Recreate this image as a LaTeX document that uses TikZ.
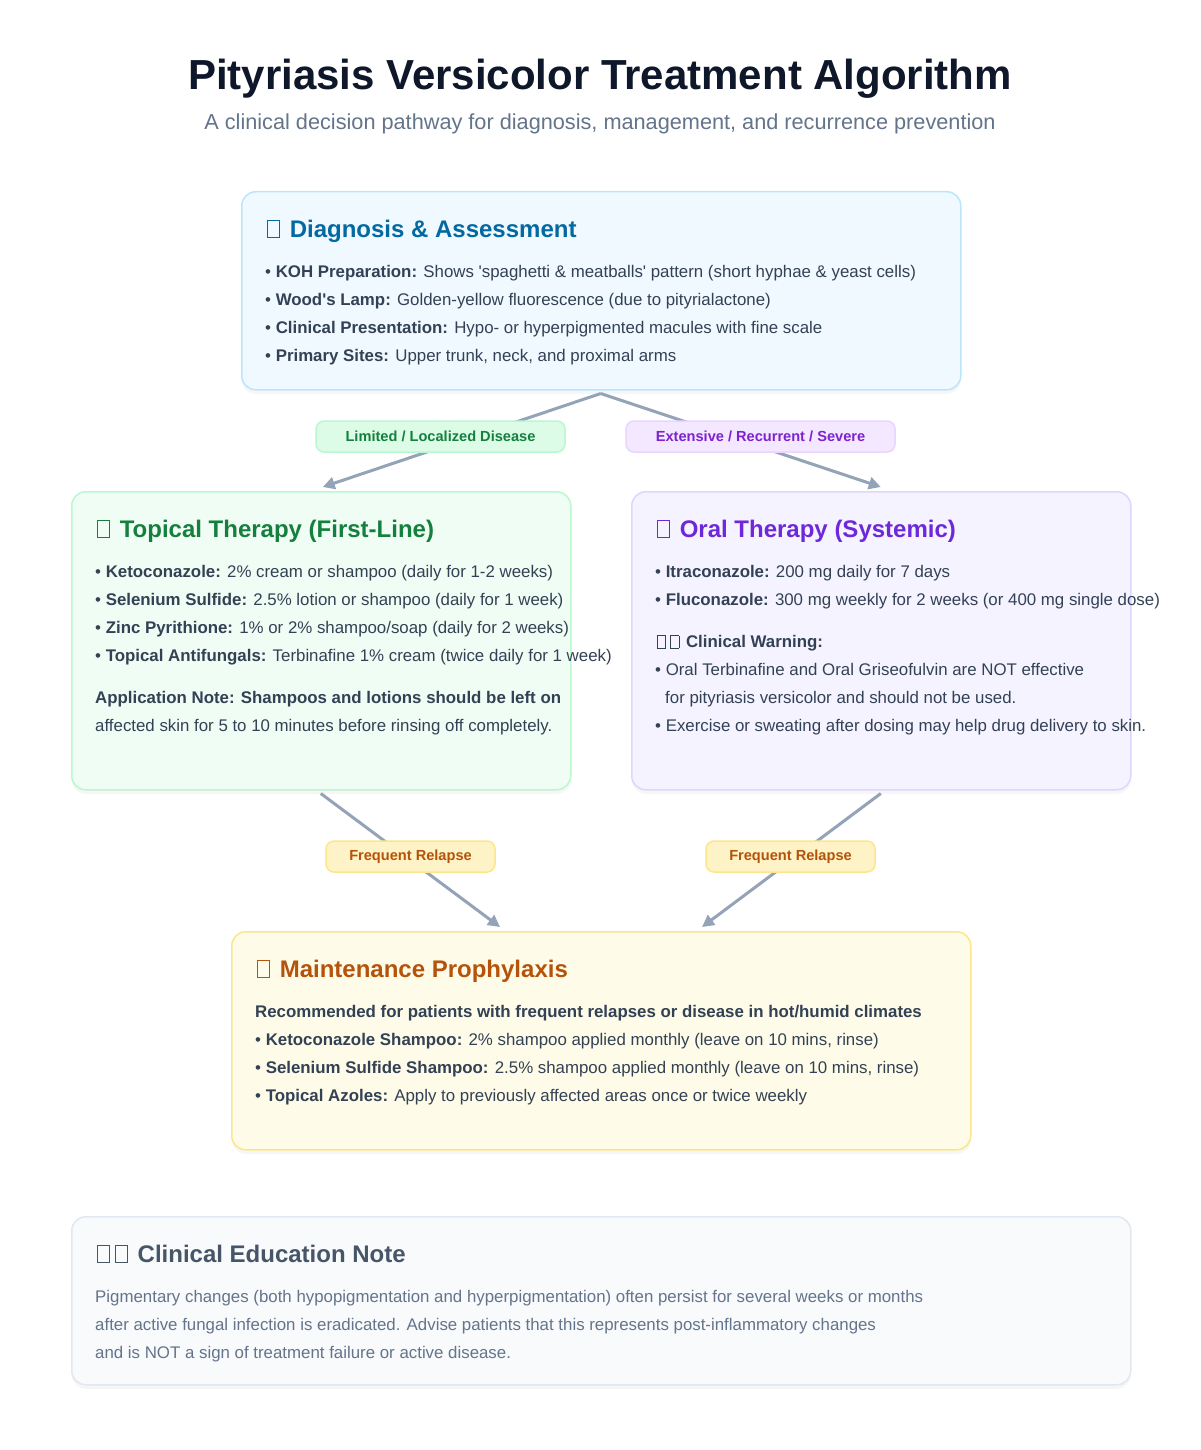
\documentclass[tikz,border=0pt]{standalone}
\usepackage{fontspec}
\setmainfont{Liberation Sans}
\usetikzlibrary{arrows.meta,shadows,calc}
\definecolor{ttl}{HTML}{0F172A}
\definecolor{sub}{HTML}{64748B}
\definecolor{body}{HTML}{334155}
\definecolor{dfill}{HTML}{F0F9FF}\definecolor{dline}{HTML}{BAE6FD}\definecolor{dtit}{HTML}{0369A1}
\definecolor{tfill}{HTML}{F0FDF4}\definecolor{tline}{HTML}{BBF7D0}\definecolor{ttit}{HTML}{15803D}
\definecolor{ofill}{HTML}{F5F3FF}\definecolor{oline}{HTML}{DDD6FE}\definecolor{otit}{HTML}{6D28D9}
\definecolor{mfill}{HTML}{FEFCE8}\definecolor{mline}{HTML}{FDE68A}\definecolor{mtit}{HTML}{B45309}
\definecolor{efill}{HTML}{F8FAFC}\definecolor{eline}{HTML}{E2E8F0}\definecolor{etit}{HTML}{475569}
\definecolor{lgfill}{HTML}{DCFCE7}\definecolor{lgline}{HTML}{BBF7D0}
\definecolor{lpfill}{HTML}{F3E8FF}\definecolor{lpline}{HTML}{E9D5FF}\definecolor{lptxt}{HTML}{7E22CE}
\definecolor{lyfill}{HTML}{FEF3C7}
\definecolor{arrc}{HTML}{94A3B8}
\newcommand\tofu{{\kern0.08em\fboxsep=0pt\fboxrule=0.8pt\fbox{\rule{0pt}{0.68em}\hspace{0.48em}}\kern0.12em}}
\newcommand\fs[1]{\fontsize{#1}{#1}\selectfont}
\begin{document}
\begin{tikzpicture}[x=1pt,y=-1pt,
  panel/.style={draw, line width=1.5pt, rounded corners=14pt, inner sep=0pt, anchor=north west,
    drop shadow={opacity=0.07, shadow xshift=0pt, shadow yshift=-4pt}},
  pill/.style={draw, line width=1.5pt, rounded corners=8pt, inner sep=0pt, minimum height=31pt, font=\fs{14.6}\bfseries},
  txt/.style={inner sep=0pt, anchor=base west, text=body, font=\fs{16.85}},
  head/.style={inner sep=0pt, anchor=base west, font=\fs{24}\bfseries},
  arr/.style={draw=arrc, line width=3pt, -{Triangle[length=12pt,width=12pt]}}]
\useasboundingbox[fill=white] (0,0) rectangle (1200,1450);
% title
\node[inner sep=0pt, anchor=base, text=ttl, font=\fs{42}\bfseries] (title) at (600,89.5) {Pityriasis Versicolor Treatment Algorithm};
\node[inner sep=0pt, anchor=base, text=sub, font=\fs{21.7}] (subtitle) at (600,129.5) {A clinical decision pathway for diagnosis, management, and recurrence prevention};
% panels
\node[panel, fill=dfill, draw=dline, minimum width=719pt, minimum height=198pt] (diag) at (241,191) {};
\node[panel, fill=tfill, draw=tline, minimum width=499pt, minimum height=298pt] (topical) at (71,491) {};
\node[panel, fill=ofill, draw=oline, minimum width=499pt, minimum height=298pt] (oral) at (631,491) {};
\node[panel, fill=mfill, draw=mline, minimum width=739pt, minimum height=218pt] (maint) at (231,931) {};
\node[panel, fill=efill, draw=eline, minimum width=1059pt, minimum height=168pt] (edu) at (71,1216) {};
% connectors
\coordinate (tin) at ($(topical.north)+(1.5,-4)$);
\coordinate (oin) at ($(oral.north)+(-0.5,-4)$);
\coordinate (min1) at ($(maint.north west)+(269,-4)$);
\coordinate (min2) at ($(maint.north west)+(471,-4)$);
\draw[arr] ($(diag.south)+(-0.5,3)$) -- (tin);
\draw[arr] ($(diag.south)+(-0.5,3)$) -- (oin);
\draw[arr] ($(topical.south)+(-0.5,3)$) -- (min1);
\draw[arr] ($(oral.south)+(-0.5,3)$) -- (min2);
% edge labels
\node[pill, fill=lgfill, draw=lgline, text=ttit, minimum width=249pt] (lim) at (440.5,436.5) {Limited / Localized Disease};
\node[pill, fill=lpfill, draw=lpline, text=lptxt, minimum width=269pt] (ext) at (760.5,436.5) {Extensive / Recurrent / Severe};
\node[pill, fill=lyfill, draw=mline, text=mtit, minimum width=169pt] (rel1) at (410.5,856.5) {Frequent Relapse};
\node[pill, fill=lyfill, draw=mline, text=mtit, minimum width=169pt] (rel2) at (790.5,856.5) {Frequent Relapse};
% diagnosis text
\node[head, text=dtit] (dh) at (265,237) {\tofu{} Diagnosis \& Assessment};
\node[txt] (d1) at (265,277.5) {• \textbf{KOH Preparation:} Shows \textquotesingle spaghetti \& meatballs\textquotesingle{} pattern (short hyphae \& yeast cells)};
\node[txt] (d2) at (265,305.5) {• \textbf{Wood\textquotesingle s Lamp:} Golden-yellow fluorescence (due to pityrialactone)};
\node[txt] (d3) at (265,333.5) {• \textbf{Clinical Presentation:} Hypo- or hyperpigmented macules with fine scale};
\node[txt] (d4) at (265,361.5) {• \textbf{Primary Sites:} Upper trunk, neck, and proximal arms};
% topical text
\node[head, text=ttit] (th) at (95,537) {\tofu{} Topical Therapy (First-Line)};
\node[txt] (t1) at (95,577.5) {• \textbf{Ketoconazole:} 2\% cream or shampoo (daily for 1-2 weeks)};
\node[txt] (t2) at (95,605.5) {• \textbf{Selenium Sulfide:} 2.5\% lotion or shampoo (daily for 1 week)};
\node[txt] (t3) at (95,633.5) {• \textbf{Zinc Pyrithione:} 1\% or 2\% shampoo/soap (daily for 2 weeks)};
\node[txt] (t4) at (95,661.5) {• \textbf{Topical Antifungals:} Terbinafine 1\% cream (twice daily for 1 week)};
\node[txt] (t5) at (95,703.5) {\textbf{Application Note: Shampoos and lotions should be left on}};
\node[txt] (t6) at (95,731.5) {affected skin for 5 to 10 minutes before rinsing off completely.};
% oral text
\node[head, text=otit] (oh) at (655,537) {\tofu{} Oral Therapy (Systemic)};
\node[txt] (o1) at (655,577.5) {• \textbf{Itraconazole:} 200 mg daily for 7 days};
\node[txt] (o2) at (655,605.5) {• \textbf{Fluconazole:} 300 mg weekly for 2 weeks (or 400 mg single dose)};
\node[txt] (o3) at (655,647.5) {\tofu\tofu{} \textbf{Clinical Warning:}};
\node[txt] (o4) at (655,675.5) {• Oral Terbinafine and Oral Griseofulvin are NOT effective};
\node[txt] (o5) at (665,703.5) {for pityriasis versicolor and should not be used.};
\node[txt] (o6) at (655,731.5) {• Exercise or sweating after dosing may help drug delivery to skin.};
% maintenance text
\node[head, text=mtit] (mh) at (255,977) {\tofu{} Maintenance Prophylaxis};
\node[txt] (m0) at (255,1017.5) {\textbf{Recommended for patients with frequent relapses or disease in hot/humid climates}};
\node[txt] (m1) at (255,1045.5) {• \textbf{Ketoconazole Shampoo:} 2\% shampoo applied monthly (leave on 10 mins, rinse)};
\node[txt] (m2) at (255,1073.5) {• \textbf{Selenium Sulfide Shampoo:} 2.5\% shampoo applied monthly (leave on 10 mins, rinse)};
\node[txt] (m3) at (255,1101.5) {• \textbf{Topical Azoles:} Apply to previously affected areas once or twice weekly};
% education text
\node[head, text=etit] (eh) at (95,1262) {\tofu\tofu{} Clinical Education Note};
\node[txt, text=sub] (e1) at (95,1302.5) {Pigmentary changes (both hypopigmentation and hyperpigmentation) often persist for several weeks or months};
\node[txt, text=sub] (e2) at (95,1330.5) {after active fungal infection is eradicated. Advise patients that this represents post-inflammatory changes};
\node[txt, text=sub] (e3) at (95,1358.5) {and is NOT a sign of treatment failure or active disease.};
\end{tikzpicture}
\end{document}
